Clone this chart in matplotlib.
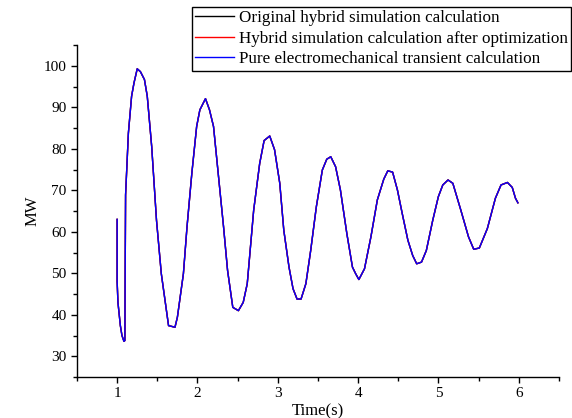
import numpy as np
import matplotlib
matplotlib.use("Agg")
import matplotlib.pyplot as plt
from matplotlib.ticker import MultipleLocator

# Time (s) and active power (MW)
time_s = [1.0, 1.0, 1.01, 1.04, 1.06, 1.085, 1.096, 1.105, 1.14, 1.18, 1.21, 1.25,
          1.29, 1.34, 1.375, 1.43, 1.49, 1.55, 1.64, 1.72, 1.75, 1.825, 1.87, 1.93,
          1.99, 2.03, 2.10, 2.15, 2.20, 2.325, 2.375, 2.44, 2.51, 2.57, 2.62, 2.70,
          2.775, 2.83, 2.90, 2.96, 3.025, 3.075, 3.14, 3.19, 3.24, 3.29, 3.35, 3.41,
          3.48, 3.555, 3.61, 3.66, 3.72, 3.78, 3.86, 3.93, 3.97, 4.01, 4.08, 4.16,
          4.24, 4.32, 4.37, 4.43, 4.49, 4.55, 4.62, 4.68, 4.73, 4.79, 4.85, 4.93,
          5.00, 5.055, 5.12, 5.18, 5.28, 5.375, 5.44, 5.51, 5.61, 5.71, 5.78, 5.86,
          5.92, 5.96, 5.99]
power_mw = [63.0, 48.0, 43.0, 37.4, 35.0, 33.6, 33.8, 68.9, 83.8, 92.7, 95.9, 99.3,
            98.6, 96.7, 92.7, 80.6, 62.8, 49.9, 37.4, 37.0, 39.4, 49.9, 61.2, 74.1,
            85.4, 89.4, 92.1, 89.4, 85.4, 61.2, 50.7, 41.8, 41.0, 43.0, 47.5, 65.2,
            76.5, 82.0, 83.1, 79.8, 71.7, 60.4, 51.5, 46.3, 43.8, 43.8, 47.5, 55.5,
            66.0, 74.9, 77.5, 78.1, 75.7, 70.1, 59.6, 51.5, 49.9, 48.5, 51.1, 58.8,
            67.7, 72.7, 74.7, 74.4, 70.1, 64.4, 58.0, 54.3, 52.3, 52.7, 55.5, 62.8,
            68.5, 71.3, 72.5, 71.7, 65.2, 58.8, 55.8, 56.1, 60.8, 68.1, 71.3, 71.9,
            70.7, 68.1, 67.0]

labels = ['Original hybrid simulation calculation',
          'Hybrid simulation calculation after optimization',
          'Pure electromechanical transient calculation']
colors = ['#000000', '#ff0000', '#0000ff']

plt.rcParams['font.family'] = ['Liberation Serif', 'DejaVu Serif']

fig = plt.figure(figsize=(5.72, 4.18), dpi=100)
ax = fig.add_axes([0.1346, 0.098, 0.8424, 0.794])

# the three curves lie on top of each other
for lab, col in zip(labels, colors):
    ax.plot(time_s, power_mw, color=col, lw=1.0, label=lab)

ax.set_xlim(0.5, 6.5)
ax.set_ylim(25, 105)
ax.xaxis.set_major_locator(MultipleLocator(1))
ax.xaxis.set_minor_locator(MultipleLocator(0.5))
ax.yaxis.set_major_locator(MultipleLocator(10))
ax.yaxis.set_minor_locator(MultipleLocator(5))
ax.set_yticks(np.arange(30, 101, 10))

ax.tick_params(which='major', direction='out', length=4, width=1, labelsize=11)
ax.tick_params(which='minor', direction='out', length=3, width=1)
for side in ['top', 'right']:
    ax.spines[side].set_visible(False)
for side in ['left', 'bottom']:
    ax.spines[side].set_linewidth(1)

ax.set_xlabel('Time(s)', fontsize=12, labelpad=2)
ax.set_ylabel('MW', fontsize=12, labelpad=2)

leg = fig.legend(loc='upper right', bbox_to_anchor=(0.999, 0.984), fontsize=12.25,
                 frameon=True, fancybox=False, edgecolor='black', framealpha=1,
                 handlelength=2.3, handletextpad=0.25, labelspacing=0.26,
                 borderpad=0.22, borderaxespad=0)
leg.get_frame().set_linewidth(1)

fig.savefig('out.png', dpi=100)
